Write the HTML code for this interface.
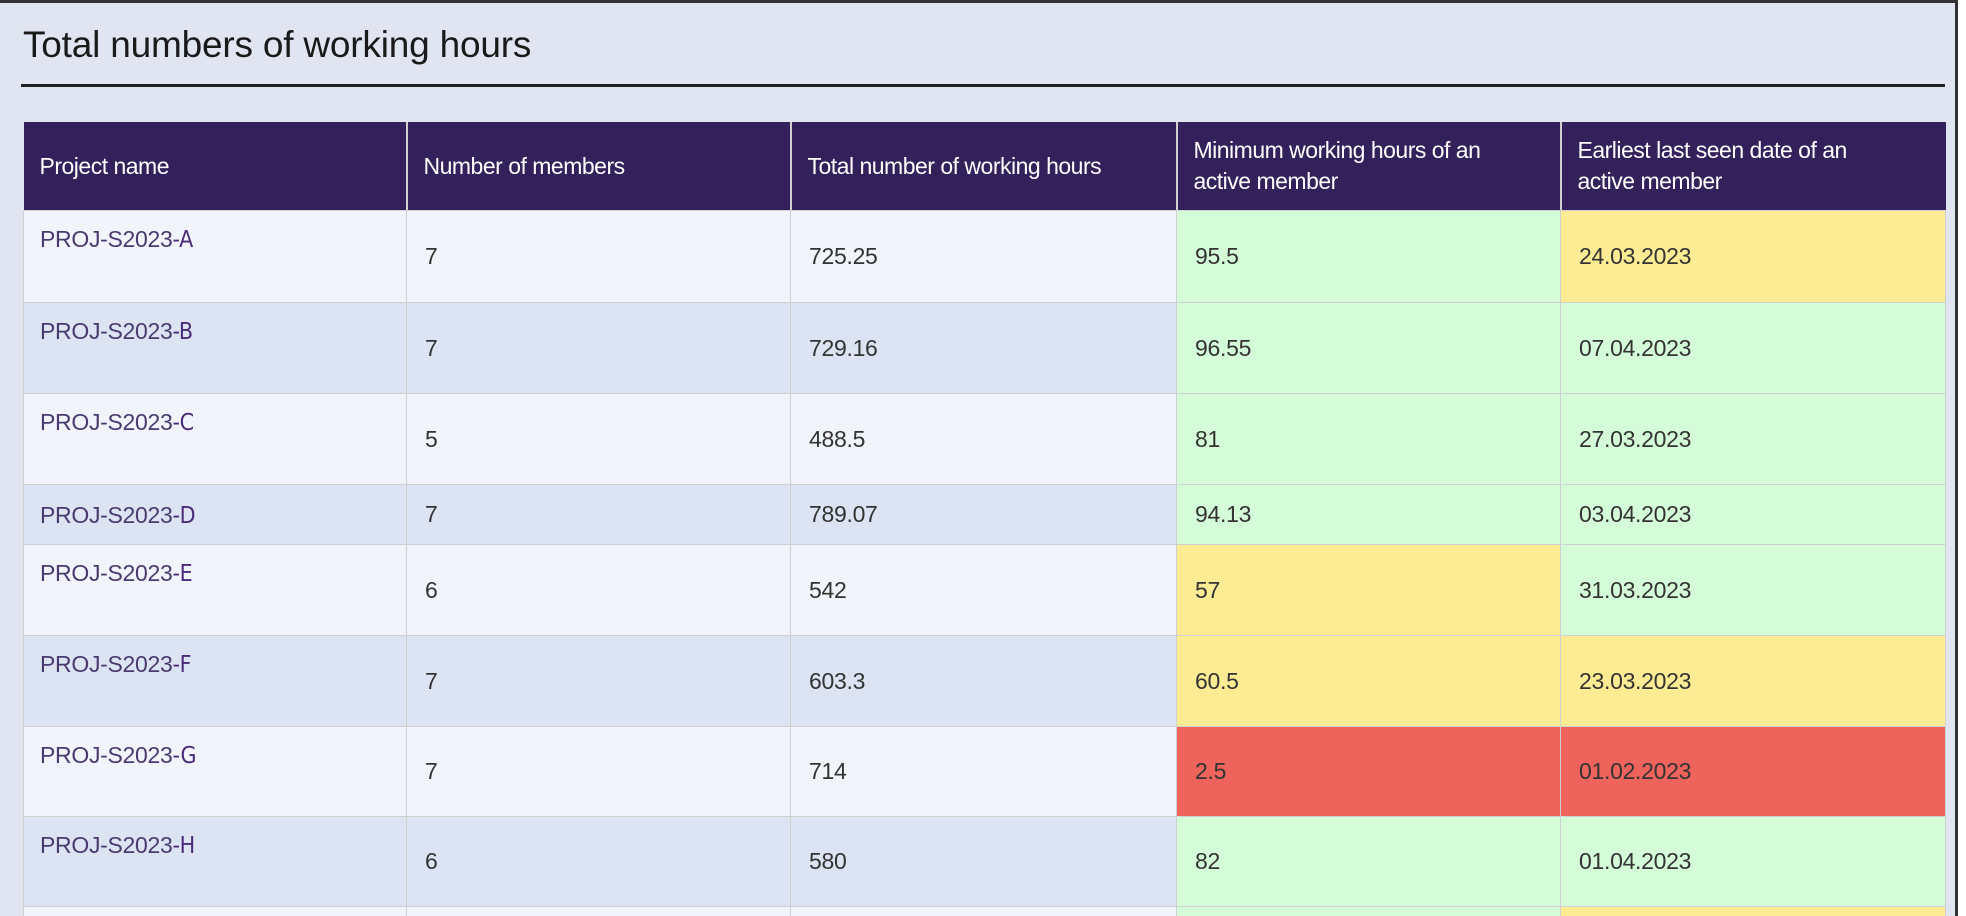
<!DOCTYPE html>
<html><head><meta charset="utf-8"><style>
html,body{margin:0;padding:0;width:1966px;height:916px;overflow:hidden;background:#fff;font-family:"Liberation Sans",Arial,sans-serif}
#panel{position:absolute;left:0;top:0;width:1958px;height:916px;background:#e1e5f2;border-top:3px solid #333;border-right:3px solid #333;box-sizing:border-box;overflow:hidden}
#title{position:absolute;left:23px;top:18px;font-size:37px;color:#1a1a1a;line-height:48px;letter-spacing:-0.2px}
#rule{position:absolute;left:21px;top:81px;width:1924px;height:3px;background:#222}
table{position:absolute;left:23px;top:119px;width:1922px;border-collapse:collapse;table-layout:fixed}
th{background:#32215a;color:#fff;font-weight:normal;font-size:23px;line-height:31px;text-align:left;padding:0 16px 0 16px;height:88px;border-left:2px solid #d0d0d0;vertical-align:middle;letter-spacing:-0.5px}
th div{max-width:320px}
th:first-child{border-left:none}
td{font-size:23px;color:#333;padding:0 18px;border:1.5px solid #d0d0d0;vertical-align:middle;letter-spacing:-0.3px}
td.name{vertical-align:top;padding-top:17px;padding-left:16px;line-height:22px;color:#4a3a70}
td.name span{color:#4b2a7a;font-family:"DejaVu Sans Condensed","Liberation Sans",sans-serif}
tr.odd td{background:#f1f4fa}
tr.even td{background:#dce4f3}
tr td.g{background:#d5fcd8}
tr td.y{background:#fdec93}
tr td.r{background:#ee645c}
</style></head><body>
<div id="panel">
<div id="title">Total numbers of working hours</div>
<div id="rule"></div>
<table>
<colgroup><col style="width:383px"><col style="width:384px"><col style="width:386px"><col style="width:384px"><col style="width:385px"></colgroup>
<thead><tr>
<th><div>Project name</div></th>
<th><div>Number of members</div></th>
<th><div>Total number of working hours</div></th>
<th><div>Minimum working hours of an active member</div></th>
<th><div>Earliest last seen date of an active member</div></th>
</tr></thead>
<tbody>
<tr class="odd" style="height:92px"><td class="name">PROJ-S2023<span>-A</span></td><td>7</td><td>725.25</td><td class="g">95.5</td><td class="y">24.03.2023</td></tr>
<tr class="even" style="height:91px"><td class="name">PROJ-S2023<span>-B</span></td><td>7</td><td>729.16</td><td class="g">96.55</td><td class="g">07.04.2023</td></tr>
<tr class="odd" style="height:91px"><td class="name">PROJ-S2023<span>-C</span></td><td>5</td><td>488.5</td><td class="g">81</td><td class="g">27.03.2023</td></tr>
<tr class="even" style="height:60px"><td class="name" style="padding-top:19px">PROJ-S2023<span>-D</span></td><td>7</td><td>789.07</td><td class="g">94.13</td><td class="g">03.04.2023</td></tr>
<tr class="odd" style="height:91px"><td class="name">PROJ-S2023<span>-E</span></td><td>6</td><td>542</td><td class="y">57</td><td class="g">31.03.2023</td></tr>
<tr class="even" style="height:91px"><td class="name">PROJ-S2023<span>-F</span></td><td>7</td><td>603.3</td><td class="y">60.5</td><td class="y">23.03.2023</td></tr>
<tr class="odd" style="height:90px"><td class="name">PROJ-S2023<span>-G</span></td><td>7</td><td>714</td><td class="r">2.5</td><td class="r">01.02.2023</td></tr>
<tr class="even" style="height:90px"><td class="name">PROJ-S2023<span>-H</span></td><td>6</td><td>580</td><td class="g">82</td><td class="g">01.04.2023</td></tr>
<tr class="odd" style="height:12px"><td></td><td></td><td></td><td class="g"></td><td class="y"></td></tr>
</tbody></table>
</div>
</body></html>
